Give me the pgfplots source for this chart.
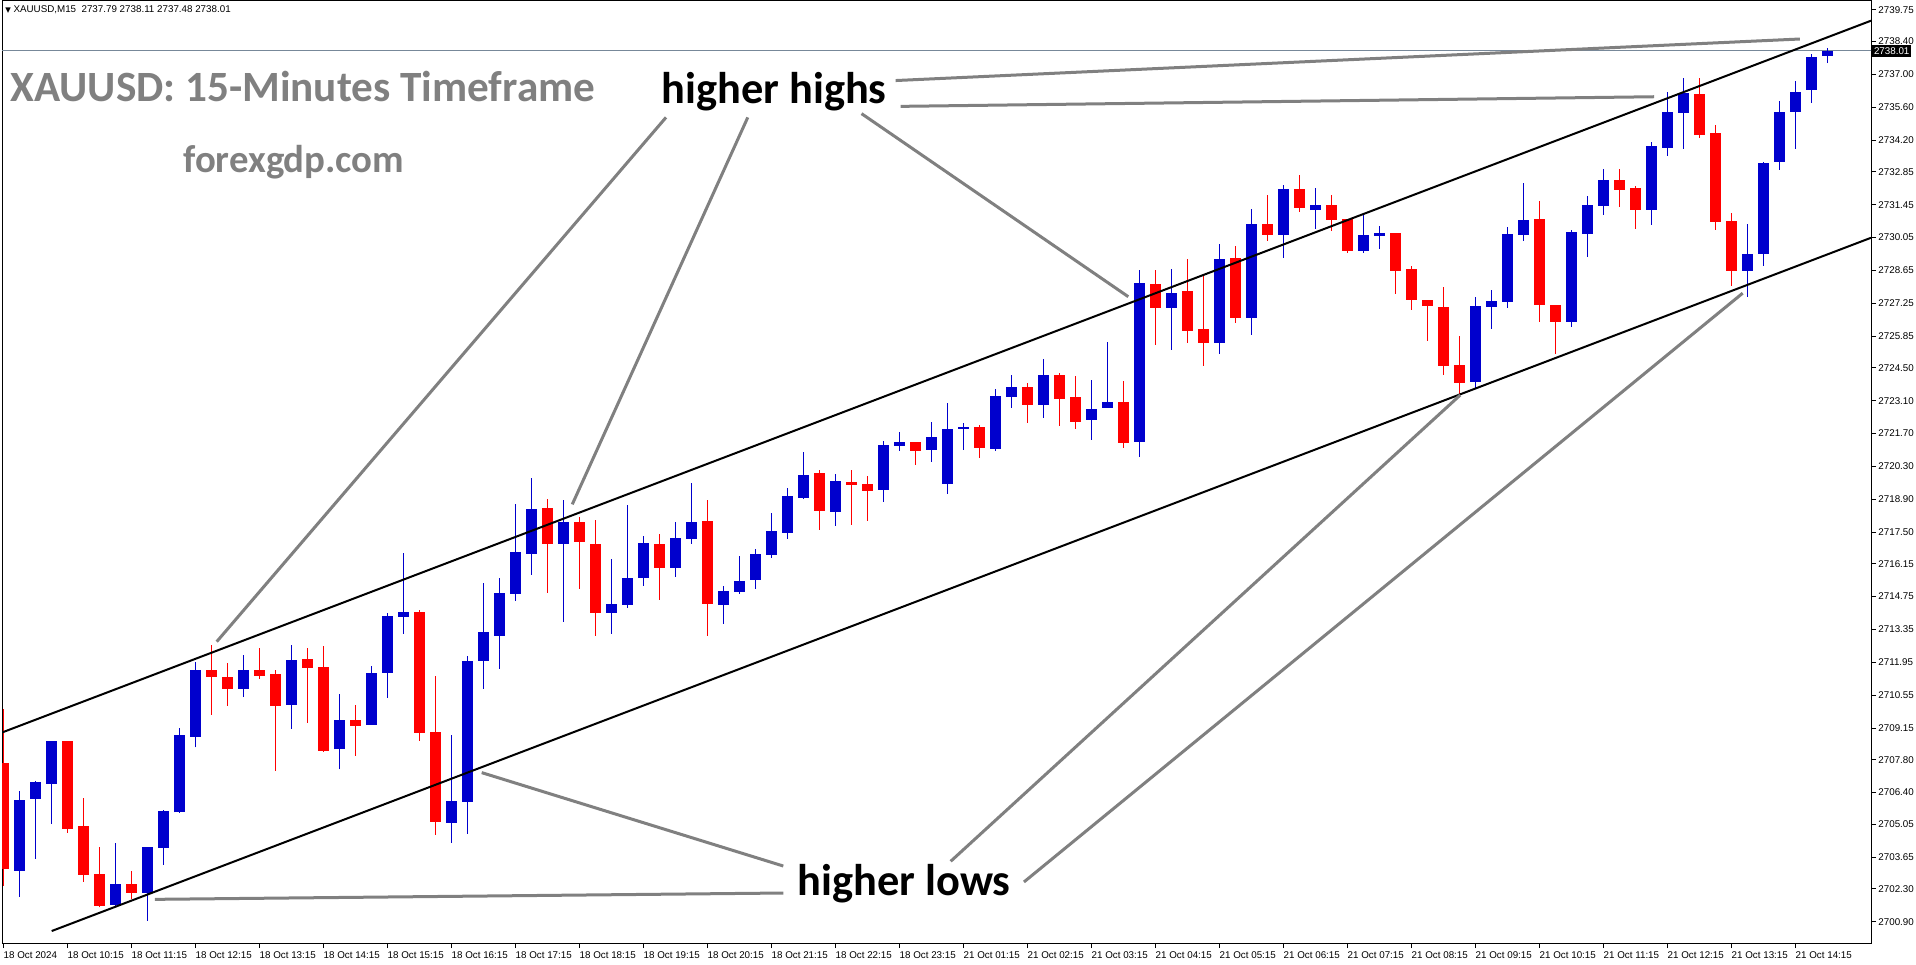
\documentclass[border=0pt]{standalone}
\usepackage{pgfplots}
\pgfplotsset{compat=1.18}
\usepackage{pgfplotstable}
\usepackage{fontspec}
\setmainfont{Liberation Sans}
\newfontfamily\carlito{Carlito}
\newfontfamily\dejavu{DejaVu Sans}
\definecolor{cblue}{HTML}{0000CD}
\definecolor{cred}{HTML}{FF0000}
\definecolor{agray}{HTML}{808080}
\definecolor{bidc}{HTML}{778899}
\newcommand\tickfont{\fontsize{4.9}{5.5}\selectfont}

% bullish candles: x o h l c
\pgfplotstableread{
x o h l c
1 2703.07 2706.47 2701.97 2706.09
2 2706.13 2706.90 2703.57 2706.84
3 2706.78 2708.60 2705.06 2708.60
7 2701.61 2704.27 2701.51 2702.51
9 2702.14 2704.08 2700.94 2704.08
10 2704.05 2705.66 2703.32 2705.62
11 2705.56 2709.17 2705.53 2708.86
12 2708.78 2711.98 2708.33 2711.62
15 2710.82 2712.26 2710.47 2711.62
18 2710.15 2712.69 2709.11 2712.05
21 2708.24 2710.60 2707.39 2709.49
23 2709.30 2711.80 2709.30 2711.50
24 2711.51 2714.04 2710.45 2713.93
25 2713.90 2716.61 2713.17 2714.10
28 2705.12 2708.86 2704.27 2706.04
29 2706.01 2712.22 2704.65 2712.01
30 2712.02 2715.33 2710.82 2713.24
31 2713.09 2715.54 2711.67 2714.91
32 2714.88 2718.70 2714.58 2716.65
33 2716.58 2719.81 2715.69 2718.48
35 2717.01 2718.87 2713.68 2717.93
38 2714.07 2716.35 2713.17 2714.44
39 2714.41 2718.66 2714.28 2715.54
40 2715.56 2717.33 2715.22 2717.04
42 2715.99 2717.93 2715.60 2717.25
43 2717.22 2719.59 2717.01 2717.93
45 2714.41 2715.20 2713.60 2714.99
46 2714.96 2716.48 2714.88 2715.42
47 2715.47 2716.78 2715.09 2716.57
48 2716.54 2718.31 2716.41 2717.55
49 2717.48 2719.38 2717.22 2719.04
50 2718.97 2720.91 2718.92 2719.93
52 2718.37 2719.98 2717.77 2719.68
55 2719.31 2721.38 2718.80 2721.21
56 2721.18 2721.77 2720.96 2721.34
58 2721.01 2722.19 2720.50 2721.55
59 2719.56 2723.00 2719.14 2721.89
60 2721.91 2722.15 2721.01 2721.98
62 2721.06 2723.60 2720.97 2723.30
63 2723.26 2724.19 2722.80 2723.68
65 2722.92 2724.88 2722.38 2724.19
68 2722.29 2723.98 2721.44 2722.75
69 2722.80 2725.60 2722.80 2723.04
71 2721.35 2728.67 2720.71 2728.11
73 2727.06 2728.71 2725.27 2727.69
76 2725.57 2729.78 2725.10 2729.14
78 2726.64 2731.27 2725.91 2730.63
80 2730.17 2732.29 2729.19 2732.12
82 2731.22 2732.16 2730.42 2731.44
85 2729.49 2731.05 2729.41 2730.16
86 2730.13 2730.54 2729.58 2730.24
92 2723.91 2727.52 2723.61 2727.13
93 2727.11 2727.82 2726.17 2727.35
94 2727.32 2730.50 2727.06 2730.20
95 2730.17 2732.38 2729.92 2730.80
98 2726.47 2730.37 2726.25 2730.29
99 2730.22 2731.82 2729.24 2731.44
100 2731.41 2732.97 2731.03 2732.50
103 2731.24 2734.12 2730.60 2733.95
104 2733.88 2736.25 2733.54 2735.40
105 2735.37 2736.85 2733.84 2736.21
109 2728.64 2730.64 2727.53 2729.35
110 2729.36 2733.27 2728.85 2733.23
111 2733.28 2735.87 2732.94 2735.40
112 2735.41 2736.72 2733.84 2736.25
113 2736.35 2737.87 2735.80 2737.74
114 2737.79 2738.11 2737.48 2738.01
}\bull

% bearish candles: x o h l c
\pgfplotstableread{
x o h l c
0 2707.65 2709.95 2702.44 2703.13
4 2708.60 2708.60 2704.69 2704.85
5 2704.98 2706.17 2702.61 2702.89
6 2702.93 2704.08 2701.51 2701.57
8 2702.51 2703.07 2701.85 2702.14
13 2711.62 2712.69 2709.71 2711.34
14 2711.33 2711.94 2710.09 2710.82
16 2711.62 2712.56 2711.24 2711.38
17 2711.45 2711.62 2707.32 2710.10
19 2712.09 2712.56 2709.38 2711.72
20 2711.75 2712.65 2708.13 2708.19
22 2709.49 2710.13 2707.97 2709.25
26 2714.10 2714.18 2708.61 2708.95
27 2708.98 2711.37 2704.61 2705.16
34 2718.53 2718.91 2714.92 2717.01
36 2717.93 2718.14 2715.09 2717.09
37 2716.99 2718.02 2713.09 2714.07
41 2716.99 2717.42 2714.62 2715.99
44 2717.97 2718.87 2713.09 2714.45
51 2720.02 2720.15 2717.60 2718.41
53 2719.64 2720.15 2717.82 2719.52
54 2719.55 2719.89 2717.99 2719.27
57 2721.34 2721.34 2720.37 2720.97
61 2721.98 2722.05 2720.67 2721.10
64 2723.68 2723.85 2722.16 2722.92
66 2724.19 2724.28 2722.04 2723.17
67 2723.26 2724.15 2721.91 2722.21
70 2723.04 2723.94 2721.10 2721.31
72 2728.07 2728.67 2725.49 2727.06
74 2727.77 2729.14 2725.57 2726.08
75 2726.15 2728.50 2724.59 2725.57
77 2729.18 2729.69 2726.42 2726.64
79 2730.63 2731.86 2729.92 2730.17
81 2732.12 2732.72 2731.15 2731.32
83 2731.44 2731.86 2730.34 2730.81
84 2730.84 2730.84 2729.41 2729.49
87 2730.24 2730.24 2727.66 2728.64
88 2728.71 2728.84 2726.98 2727.40
89 2727.39 2727.40 2725.66 2727.15
90 2727.09 2727.94 2724.21 2724.59
91 2724.62 2725.86 2723.30 2723.87
96 2730.84 2731.61 2726.47 2727.19
97 2727.18 2727.18 2725.10 2726.47
101 2732.50 2732.98 2731.37 2732.09
102 2732.16 2732.26 2730.43 2731.24
106 2736.17 2736.85 2734.31 2734.43
107 2734.50 2734.85 2730.39 2730.73
108 2730.76 2731.10 2728.00 2728.64
}\bear

\pgfplotsset{
  candle/.style 2 args={only marks, mark=*, mark size=0pt,
    mark options={draw opacity=0, fill opacity=0}, forget plot,
    error bars/.cd, y dir=plus, y explicit, error mark=none,
    error bar style={line width=#1, draw=#2, draw opacity=1}},
}

\begin{document}
\begin{tikzpicture}
\fill[white] (-1pt,-10.5pt) rectangle (957pt,471.5pt);
\path[use as bounding box] (-1pt,-10.5pt) rectangle (957pt,471.5pt);
\begin{axis}[
  at={(0,0)}, anchor=south west,
  scale only axis, width=934.5pt, height=471pt,
  xmin=-0.08, xmax=116.73, ymin=2699.99, ymax=2740.13,
  axis line style={black, line width=0.5pt},
  tick style={black, line width=0.5pt},
  tick align=outside, major tick length=2.5pt,
  xtick pos=left, ytick pos=right, yticklabel pos=right,
  xtick={0,4,...,112},
  xticklabels={18 Oct 2024,18 Oct 10:15,18 Oct 11:15,18 Oct 12:15,18 Oct 13:15,18 Oct 14:15,18 Oct 15:15,18 Oct 16:15,18 Oct 17:15,18 Oct 18:15,18 Oct 19:15,18 Oct 20:15,18 Oct 21:15,18 Oct 22:15,18 Oct 23:15,21 Oct 01:15,21 Oct 02:15,21 Oct 03:15,21 Oct 04:15,21 Oct 05:15,21 Oct 06:15,21 Oct 07:15,21 Oct 08:15,21 Oct 09:15,21 Oct 10:15,21 Oct 11:15,21 Oct 12:15,21 Oct 13:15,21 Oct 14:15},
  ytick={2739.75,2738.40,2737.00,2735.60,2734.20,2732.85,2731.45,2730.05,2728.65,2727.25,2725.85,2724.50,2723.10,2721.70,2720.30,2718.90,2717.50,2716.15,2714.75,2713.35,2711.95,2710.55,2709.15,2707.80,2706.40,2705.05,2703.65,2702.30,2700.90},
  yticklabels={2739.75,2738.40,2737.00,2735.60,2734.20,2732.85,2731.45,2730.05,2728.65,2727.25,2725.85,2724.50,2723.10,2721.70,2720.30,2718.90,2717.50,2716.15,2714.75,2713.35,2711.95,2710.55,2709.15,2707.80,2706.40,2705.05,2703.65,2702.30,2700.90},
  x tick label style={font=\tickfont, anchor=north west, inner sep=0pt, yshift=-1.5pt},
  y tick label style={font=\tickfont, anchor=west, inner sep=0pt, xshift=1pt},
]
% bid line
\addplot[bidc, line width=0.5pt, forget plot] coordinates {(-0.1,2738.01) (116.8,2738.01)};
% wicks
\addplot[candle={0.6pt}{cblue}] table[x=x, y=l, y error plus expr=\thisrow{h}-\thisrow{l}] {\bull};
\addplot[candle={0.6pt}{cred}] table[x=x, y=l, y error plus expr=\thisrow{h}-\thisrow{l}] {\bear};
% bodies
\addplot[candle={5.5pt}{cblue}] table[x=x, y=o, y error plus expr=\thisrow{c}-\thisrow{o}] {\bull};
\addplot[candle={5.5pt}{cred}] table[x=x, y=c, y error plus expr=\thisrow{o}-\thisrow{c}] {\bear};
% channel
\addplot[black, line width=1pt] coordinates {(-0.04,2708.97) (116.73,2739.29)};
\addplot[black, line width=1pt] coordinates {(3.025,2700.50) (116.73,2730.04)};
% annotation lines
\addplot[agray, line width=1.5pt] coordinates {(55.77,2736.74) (112.28,2738.51)};
\addplot[agray, line width=1.5pt] coordinates {(56.08,2735.64) (103.17,2736.05)};
\addplot[agray, line width=1.5pt] coordinates {(41.42,2735.17) (13.34,2712.83)};
\addplot[agray, line width=1.5pt] coordinates {(46.53,2735.17) (35.56,2718.68)};
\addplot[agray, line width=1.5pt] coordinates {(53.64,2735.33) (70.31,2727.53)};
\addplot[agray, line width=1.5pt] coordinates {(29.90,2707.25) (48.75,2703.27)};
\addplot[agray, line width=1.5pt] coordinates {(9.48,2701.85) (48.75,2702.12)};
\addplot[agray, line width=1.5pt] coordinates {(59.21,2703.47) (91.06,2723.34)};
\addplot[agray, line width=1.5pt] coordinates {(63.79,2702.59) (108.71,2727.68)};
% texts
\node[anchor=west, inner sep=0pt, font=\tickfont] at (axis cs:0.1,2739.75) {{\dejavu\fontsize{3.6}{4}\selectfont ▼}\ XAUUSD,M15\ \ 2737.79 2738.11 2737.48 2738.01};
\node[anchor=base west, inner sep=0pt, text=agray, font=\carlito\bfseries\fontsize{21.6}{24}\selectfont] at (axis cs:0.42,2735.85) {XAUUSD: 15-Minutes Timeframe};
\node[anchor=base west, inner sep=0pt, text=agray, font=\carlito\bfseries\fontsize{19.4}{22}\selectfont] at (axis cs:11.23,2732.84) {forexgdp.com};
\node[anchor=base west, inner sep=0pt, text=black, font=\carlito\bfseries\fontsize{22.2}{24}\selectfont] at (axis cs:41.11,2735.78) {higher highs};
\node[anchor=base west, inner sep=0pt, text=black, font=\carlito\bfseries\fontsize{22.2}{24}\selectfont] at (axis cs:49.61,2702.00) {higher lows};
\coordinate (bid) at (axis cs:116.73,2738.01);
\end{axis}
\node[anchor=west, fill=black, text=white, font=\tickfont, inner xsep=1pt, inner ysep=1.2pt] at ([xshift=0.3pt]bid) {2738.01};
\end{tikzpicture}
\end{document}
